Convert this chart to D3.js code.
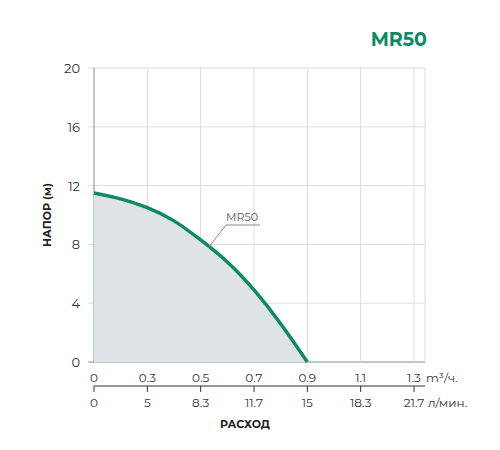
<!DOCTYPE html>
<html><head><meta charset="utf-8">
<script src="https://cdn.jsdelivr.net/npm/d3@7"></script>
<style>body{margin:0;background:#fff}text{font-family:Montserrat,"Open Sans",sans-serif}</style>
</head><body><svg id="c" width="500" height="450"></svg>
<script>
const flowM3 = ['0', '0.3', '0.5', '0.7', '0.9', '1.1', '1.3']
const flowL = ['0', '5', '8.3', '11.7', '15', '18.3', '21.7']
const yTicks = [0, 4, 8, 12, 16, 20]
// curve: position on flow tick index vs head (m)
const curveX = [0, 0.5, 1, 1.5, 2, 2.5, 3, 3.5, 4]
const curveY = [11.5, 11.1, 10.5, 9.6, 8.3, 6.8, 4.9, 2.6, 0]
const green = '#0e8a62'

const svg = d3.select('#c')
const x = d3.scaleLinear().domain([0, 6]).range([94, 414])
const y = d3.scaleLinear().domain([0, 20]).range([362, 68])
const right = 425

svg.append('g').selectAll('line').data(yTicks).join('line')
	.attr('x1', 88).attr('x2', right).attr('y1', d => y(d)).attr('y2', d => y(d))
	.attr('stroke', d => d === 0 ? '#888' : '#ddd')
svg.append('g').selectAll('line').data(d3.range(7)).join('line')
	.attr('x1', d => x(d)).attr('x2', d => x(d)).attr('y1', y(20)).attr('y2', y(0))
	.attr('stroke', d => d === 0 ? '#888' : '#ddd')
svg.append('line').attr('x1', right).attr('x2', right).attr('y1', y(20)).attr('y2', y(0)).attr('stroke', '#ddd')

svg.append('g').selectAll('text').data(yTicks).join('text')
	.attr('x', 80).attr('y', d => y(d) + 5).attr('text-anchor', 'end')
	.attr('font-size', 13).attr('fill', '#333').text(d => d)

const pts = curveX.map((c, i) => [x(c), y(curveY[i])])
const line = d3.line().curve(d3.curveNatural)
const area = d3.area().x(d => d[0]).y1(d => d[1]).y0(y(0)).curve(d3.curveNatural)
svg.append('path').attr('d', area(pts)).attr('fill', '#dde3e6')
svg.append('path').attr('d', line(pts)).attr('fill', 'none').attr('stroke', green).attr('stroke-width', 3.5)

svg.append('polyline').attr('points', `${x(2.15)},${y(7.8)} 226,225 260,225`)
	.attr('fill', 'none').attr('stroke', '#888')
svg.append('text').attr('x', 226).attr('y', 221).attr('font-size', 11).attr('fill', '#555').text('MR50')

svg.append('g').selectAll('text').data(flowM3).join('text')
	.attr('x', (d, i) => x(i)).attr('y', 382).attr('text-anchor', 'middle')
	.attr('font-size', 12).attr('fill', '#333').text(d => d)
svg.append('text').attr('x', 426).attr('y', 382).attr('font-size', 12).attr('fill', '#333').text('m³/ч.')

svg.append('line').attr('x1', x(0)).attr('x2', right).attr('y1', 386).attr('y2', 386).attr('stroke', '#333')
svg.append('g').selectAll('line').data(d3.range(7)).join('line')
	.attr('x1', d => x(d)).attr('x2', d => x(d)).attr('y1', 386).attr('y2', 392).attr('stroke', '#333')
svg.append('g').selectAll('text').data(flowL).join('text')
	.attr('x', (d, i) => x(i)).attr('y', 407).attr('text-anchor', 'middle')
	.attr('font-size', 12).attr('fill', '#333').text(d => d)
svg.append('text').attr('x', 428).attr('y', 407).attr('font-size', 12).attr('fill', '#333').text('л/мин.')

svg.append('text').attr('x', 245).attr('y', 428).attr('text-anchor', 'middle')
	.attr('font-size', 11).attr('font-weight', 'bold').attr('fill', '#222').text('РАСХОД')
svg.append('text').attr('transform', 'translate(51,215) rotate(-90)').attr('text-anchor', 'middle')
	.attr('font-size', 11).attr('font-weight', 'bold').attr('fill', '#222').text('НАПОР (м)')
svg.append('text').attr('x', 427).attr('y', 46).attr('text-anchor', 'end')
	.attr('font-size', 19).attr('font-weight', 'bold').attr('fill', green).text('MR50')
</script></body></html>
